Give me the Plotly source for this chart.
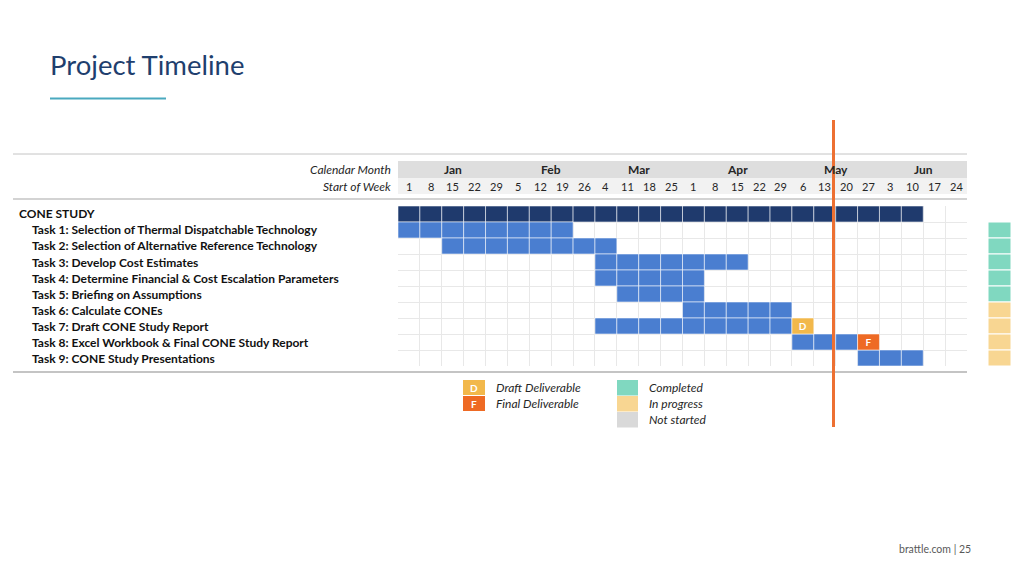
import plotly.graph_objects as go

# ---------------- data ----------------
row_labels = [
    "CONE STUDY",
    "Task 1: Selection of Thermal Dispatchable Technology",
    "Task 2: Selection of Alternative Reference Technology",
    "Task 3: Develop Cost Estimates",
    "Task 4: Determine Financial & Cost Escalation Parameters",
    "Task 5: Briefing on Assumptions",
    "Task 6: Calculate CONEs",
    "Task 7: Draft CONE Study Report",
    "Task 8: Excel Workbook & Final CONE Study Report",
    "Task 9: CONE Study Presentations",
]
start_week = [0, 0, 2, 9, 9, 10, 13, 9, 18, 21]     # first week column index
end_week = [24, 8, 10, 16, 14, 14, 18, 18, 21, 24]  # exclusive
deliverable_rows = [7, 8]
deliverable_weeks = [18, 21]
deliverable_types = ["D", "F"]
task_status = ["Completed"] * 5 + ["In progress"] * 4

month_names = ["Jan", "Feb", "Mar", "Apr", "May", "Jun"]
month_week_counts = [5, 4, 4, 5, 4, 4]
week_labels = ["1", "8", "15", "22", "29", "5", "12", "19", "26", "4", "11", "18", "25",
               "1", "8", "15", "22", "29", "6", "13", "20", "27", "3", "10", "17", "24"]
today_week = 19.9

# ---------------- styles ----------------
W, H = 1024, 576
FONT = "Lato"
C_DARK = "#1f3a6d"
C_BLUE = "#4a7ed0"
C_D = "#f2b84b"
C_F = "#ee6a24"
status_colors = {"Completed": "#80d8c0", "In progress": "#f8d692", "Not started": "#d9d9d9"}
n_weeks = len(week_labels)
n_rows = len(row_labels)


def px(x):
    return x / W


def py(y):
    return 1 - y / H


fig = go.Figure()

# gantt cells
cx, cy, cc = [], [], []
for r in range(n_rows):
    for w in range(start_week[r], end_week[r]):
        cx.append(w)
        cy.append(r + 0.5)
        cc.append(C_DARK if r == 0 else C_BLUE)
fig.add_trace(go.Bar(
    orientation="h", base=cx, x=[1] * len(cx), y=cy, width=1,
    marker=dict(color=cc, line=dict(color="rgba(255,255,255,0.55)", width=1)),
    hoverinfo="skip", showlegend=False, xaxis="x", yaxis="y"))

# deliverable cells
dcol = {"D": C_D, "F": C_F}
fig.add_trace(go.Bar(
    orientation="h", base=deliverable_weeks, x=[1] * len(deliverable_weeks),
    y=[r + 0.5 for r in deliverable_rows], width=1,
    marker=dict(color=[dcol[t] for t in deliverable_types],
                line=dict(color="rgba(255,255,255,0.55)", width=1)),
    text=[f"<b>{t}</b>" for t in deliverable_types], textposition="inside",
    insidetextanchor="middle", textangle=0, constraintext="none",
    textfont=dict(family=FONT, size=10, color="white"),
    hoverinfo="skip", showlegend=False, xaxis="x", yaxis="y"))

# status column
fig.add_trace(go.Bar(
    orientation="h", base=[0] * len(task_status), x=[1] * len(task_status),
    y=[r + 1.5 for r in range(len(task_status))], width=1,
    marker=dict(color=[status_colors[s] for s in task_status],
                line=dict(color="white", width=1)),
    hoverinfo="skip", showlegend=False, xaxis="x2", yaxis="y"))

x0, x1 = 398, 967
y0, y1 = 206, 366
fig.update_layout(
    width=W, height=H, margin=dict(l=0, r=0, t=0, b=0),
    paper_bgcolor="white", plot_bgcolor="white", barmode="overlay",
    font=dict(family=FONT, color="#262626"),
    xaxis=dict(domain=[px(x0), px(x1)], range=[0, n_weeks], tickvals=list(range(n_weeks + 1)),
               showticklabels=False, showgrid=True, gridcolor="#e8e8e8", gridwidth=1,
               zeroline=False, showline=False, fixedrange=True),
    xaxis2=dict(domain=[px(988), px(1011)], range=[0, 1], anchor="y", visible=False),
    yaxis=dict(domain=[py(y1), py(y0)], range=[n_rows, 0], tickvals=list(range(n_rows + 1)),
               showticklabels=False, showgrid=True, gridcolor="#e8e8e8", gridwidth=1,
               zeroline=False, showline=False, fixedrange=True),
)

shapes = []
ann = []

# header bands
shapes.append(dict(type="rect", xref="x", yref="paper", x0=0, x1=n_weeks, y0=py(178), y1=py(161),
                   fillcolor="#dedede", line=dict(width=0), layer="below"))
shapes.append(dict(type="rect", xref="x", yref="paper", x0=0, x1=n_weeks, y0=py(194), y1=py(178),
                   fillcolor="#f2f2f2", line=dict(width=0), layer="below"))
# rules
for yy, wd in [(154, 1), (199, 1.5), (372, 2)]:
    shapes.append(dict(type="line", xref="paper", yref="paper", x0=px(13), x1=px(967),
                       y0=py(yy), y1=py(yy), line=dict(color="#c4c4c4", width=wd)))
# title underline
shapes.append(dict(type="line", xref="paper", yref="paper", x0=px(50), x1=px(166),
                   y0=py(98.5), y1=py(98.5), line=dict(color="#4aa9bf", width=2)))
# today line
shapes.append(dict(type="line", xref="x", yref="paper", x0=today_week, x1=today_week,
                   y0=py(120), y1=py(427), line=dict(color="#ed7032", width=3)))

LEG = 12
# legend boxes
for i, (t, c) in enumerate(zip(["D", "F"], [C_D, C_F])):
    ty = 380 + 16 * i
    shapes.append(dict(type="rect", xref="paper", yref="paper", x0=px(463), x1=px(485),
                       y0=py(ty + 15), y1=py(ty), fillcolor=c, line=dict(width=0)))
    ann.append(dict(x=px(474), y=py(ty + 7.5), xanchor="center", text=f"<b>{t}</b>",
                    showarrow=False, font=dict(family=FONT, size=10, color="white")))
for i, lab in enumerate(["Draft Deliverable", "Final Deliverable"]):
    ann.append(dict(x=px(494), y=py(387.5 + 16 * i), xanchor="left", text=f"<i>{lab}</i>",
                    showarrow=False, font=dict(family=FONT, size=LEG, color="#262626")))
for i, lab in enumerate(["Completed", "In progress", "Not started"]):
    ty = 380 + 16 * i
    shapes.append(dict(type="rect", xref="paper", yref="paper", x0=px(617), x1=px(638),
                       y0=py(ty + 15.5), y1=py(ty), fillcolor=status_colors[lab], line=dict(width=0)))
    ann.append(dict(x=px(647), y=py(387.5 + 16 * i), xanchor="left", text=f"<i>{lab}</i>",
                    showarrow=False, font=dict(family=FONT, size=LEG, color="#262626")))

# header labels
ann.append(dict(x=px(393), y=py(170), xanchor="right", text="<i>Calendar Month</i>",
                showarrow=False, font=dict(family=FONT, size=12, color="#262626")))
ann.append(dict(x=px(393), y=py(186), xanchor="right", text="<i>Start of Week</i>",
                showarrow=False, font=dict(family=FONT, size=12, color="#262626")))
start = 0
for m, n in zip(month_names, month_week_counts):
    ann.append(dict(xref="x", yref="paper", x=start + n / 2, y=py(170), xanchor="center",
                    text=f"<b>{m}</b>", showarrow=False,
                    font=dict(family=FONT, size=12, color="#262626")))
    start += n
for i, wl in enumerate(week_labels):
    ann.append(dict(xref="x", yref="paper", x=i + 0.5, y=py(186), xanchor="center", text=wl,
                    showarrow=False, font=dict(family=FONT, size=11, color="#262626")))

# row labels
for r, lab in enumerate(row_labels):
    ann.append(dict(xref="paper", yref="y", x=px(16.5 if r == 0 else 29.5), y=r + 0.5,
                    xanchor="left", text=f"<b>{lab}</b>", showarrow=False,
                    font=dict(family=FONT, size=12, color="#111111")))

# title & footer
ann.append(dict(x=px(48), y=py(64), xanchor="left", text="Project Timeline", showarrow=False,
                font=dict(family=FONT, size=27.5, color="#1f3f6e")))
ann.append(dict(x=px(973), y=py(549), xanchor="right", text="brattle.com | 25", showarrow=False,
                font=dict(family=FONT, size=10.5, color="#595959")))

for a in ann:
    a.setdefault("xref", "paper")
    a.setdefault("yref", "paper")
    a.setdefault("yanchor", "middle")
fig.update_layout(shapes=shapes, annotations=ann)
fig.write_html("out.html", config={"displayModeBar": False, "staticPlot": True},
               post_script="document.body.style.margin='0px';")
